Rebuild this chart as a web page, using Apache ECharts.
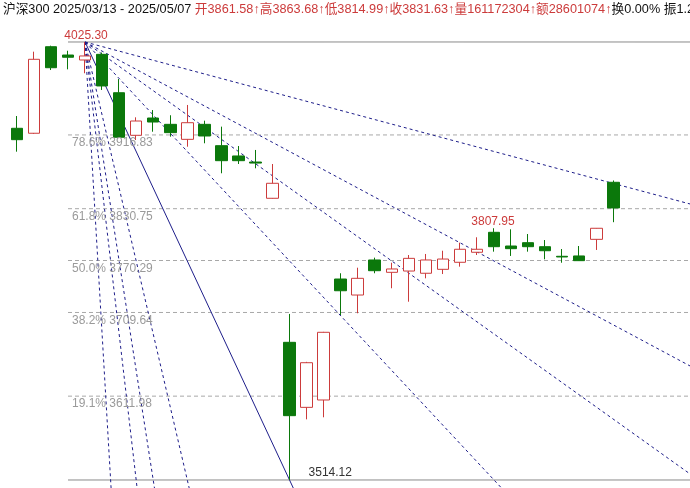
<!DOCTYPE html>
<html>
<head>
<meta charset="utf-8">
<script src="https://cdn.jsdelivr.net/npm/echarts@6/dist/echarts.min.js"></script>
<style>
html,body{margin:0;padding:0;background:#fff;}
#c{width:690px;height:488px;}
</style>
</head>
<body>
<div id="c"></div>
<script>
// ---- data ----
const dates = ['2025/03/13','2025/03/14','2025/03/17','2025/03/18','2025/03/19','2025/03/20','2025/03/21','2025/03/24','2025/03/25','2025/03/26','2025/03/27','2025/03/28','2025/03/31',
  '2025/04/01','2025/04/02','2025/04/03','2025/04/07','2025/04/08','2025/04/09','2025/04/10','2025/04/11','2025/04/14','2025/04/15','2025/04/16','2025/04/17','2025/04/18',
  '2025/04/21','2025/04/22','2025/04/23','2025/04/24','2025/04/25','2025/04/28','2025/04/29','2025/04/30','2025/05/06','2025/05/07'];
const padCats = ['', '', '', ''];
const opens  = [3924.6,3918.8,4019.8,4010.1,4004.3,4010.9,3966.1,3916.4,3936.6,3929.2,3911.7,3929.2,3904.3,3892.3,3885.2,3842.9,3674.8,3598.9,3607.5,3748.7,3730.0,3770.9,3756.5,3758.0,3755.4,3760.0,3768.2,3779.9,3803.2,3787.2,3791.1,3786.4,3775.2,3775.6,3795.0,3861.58];
const closes = [3911.3,4005.1,3995.3,4007.5,4009.0,3974.0,3914.1,3933.1,3931.9,3919.5,3931.1,3915.6,3886.8,3886.8,3884.0,3860.4,3589.2,3651.0,3686.5,3735.0,3749.5,3758.4,3760.4,3772.8,3770.9,3772.0,3783.4,3783.4,3786.4,3784.1,3786.4,3781.7,3774.4,3770.1,3807.9,3831.63];
const lows   = [3897.3,3918.0,3992.6,3993.4,3988.8,3969.3,3913.8,3910.9,3920.6,3914.8,3903.1,3907.1,3872.1,3882.9,3877.9,3842.5,3514.12,3584.9,3587.3,3706.7,3708.7,3755.4,3737.9,3722.2,3749.5,3754.5,3763.1,3776.7,3780.6,3775.6,3780.6,3771.7,3767.7,3769.8,3782.6,3814.99];
const highs  = [3938.9,4014.0,4021.0,4015.1,4025.30,4013.0,3982.1,3937.4,3945.9,3939.8,3951.8,3933.5,3926.5,3903.9,3899.3,3882.9,3707.9,3652.0,3687.0,3755.4,3761.9,3773.6,3767.7,3776.7,3777.9,3781.7,3791.1,3797.4,3807.95,3806.7,3801.2,3794.2,3783.7,3787.2,3808.2,3863.68];

const fibPcts   = ['78.6%','61.8%','50.0%','38.2%','19.1%'];
const fibValues = [3916.83,3830.75,3770.29,3709.64,3611.98];
const topValue = 4025.30, bottomValue = 3514.12;
const highIdx = 4, lowIdx = 16, localHighIdx = 28, fibStartIdx = 3;
const gannRatios = [8,4,3,2,1,1/2,1/3,1/4,1/8];

const headerBlack1 = '沪深300 2025/03/13 - 2025/05/07 ';
const headerRed = '开3861.58↑高3863.68↑低3814.99↑收3831.63↑量161172304↑额28601074↑';
const headerBlack2 = '换0.00% 振1.28%';

// ---- chart ----
const RED = '#cc3b3b', GREEN = '#0b780b', NAVY = '#1e1e8a';
const yMax = 4074.317, yMin = 3504.783, xMaxV = 39.5;
const candleData = opens.map((o,i)=>[o, closes[i], lows[i], highs[i]]);
const series = [{
  type:'candlestick', xAxisIndex:0, yAxisIndex:0, barWidth:12,
  data:candleData,
  itemStyle:{color:'#ffffff', color0:GREEN, borderColor:RED, borderColor0:GREEN, borderWidth:1},
  z:5
}];
// horizontal solid lines (top & bottom)
[topValue, bottomValue].forEach(v=>{
  series.push({type:'line', xAxisIndex:1, yAxisIndex:0, symbol:'none', silent:true,
    data:[[fibStartIdx, v],[xMaxV, v]], lineStyle:{color:'#8a8a8a', width:1, type:'solid'}, z:2});
});
fibValues.forEach(v=>{
  series.push({type:'line', xAxisIndex:1, yAxisIndex:0, symbol:'none', silent:true,
    data:[[fibStartIdx, v],[xMaxV, v]], lineStyle:{color:'#a8a8a8', width:1, type:[4,3]}, z:2});
});
// Gann fan
const unit = (topValue - bottomValue)/(lowIdx - highIdx);
gannRatios.forEach(k=>{
  const s = unit*k;
  let xe = Math.min(xMaxV, highIdx + (topValue - (yMin-20))/s);
  const ye = topValue - s*(xe-highIdx);
  series.push({type:'line', xAxisIndex:1, yAxisIndex:0, symbol:'none', silent:true, clip:true,
    data:[[highIdx, topValue],[xe, ye]],
    lineStyle:{color:NAVY, width:1, type: k===1 ? 'solid' : [3,3]}, z:3});
});

const chart = echarts.init(document.getElementById('c'), null, {renderer:'canvas'});
const FONT = '"Liberation Sans", Arial, "Noto Sans CJK SC", sans-serif';
chart.setOption({
  animation:false,
  backgroundColor:'#ffffff',
  grid:{left:8.37, top:0, width:690.3, height:488, containLabel:false},
  xAxis:[
    {type:'category', data:dates.concat(padCats), boundaryGap:true, show:false},
    {type:'value', min:-0.5, max:xMaxV, show:false}
  ],
  yAxis:[{type:'value', min:yMin, max:yMax, show:false, scale:true}],
  series:series
});

function px(x, y){ return chart.convertToPixel({xAxisIndex:1, yAxisIndex:0}, [x, y]); }
const g = [];
const pHigh = px(highIdx, topValue);
g.push({type:'text', x:pHigh[0]+1, y:pHigh[1], style:{text:topValue.toFixed(2), fill:RED, font:'12px '+FONT, textAlign:'center', textVerticalAlign:'bottom'}, z:10});
const pLH = px(localHighIdx, highs[localHighIdx]);
g.push({type:'text', x:pLH[0]-1, y:pLH[1]-1, style:{text:highs[localHighIdx].toFixed(2), fill:RED, font:'12px '+FONT, textAlign:'center', textVerticalAlign:'bottom'}, z:10});
const pLow = px(lowIdx, bottomValue);
g.push({type:'text', x:pLow[0]+19, y:pLow[1]-1, style:{text:bottomValue.toFixed(2), fill:'#333333', font:'12px '+FONT, textAlign:'left', textVerticalAlign:'bottom'}, z:10});
fibValues.forEach((v,i)=>{
  const p = px(fibStartIdx, v);
  g.push({type:'text', x:p[0]+4, y:p[1]+8, style:{text:fibPcts[i]+' '+v.toFixed(2), fill:'#9a9a9a', font:'12px '+FONT, textAlign:'left', textVerticalAlign:'middle'}, z:10});
});
g.push({type:'text', left:3, top:3, style:{
  text:'{k|'+headerBlack1+'}{r|'+headerRed+'}{k|'+headerBlack2+'}',
  rich:{k:{fill:'#111111', fontSize:12.7, fontFamily:FONT}, r:{fill:RED, fontSize:12.7, fontFamily:FONT}}
}, z:10});
chart.setOption({graphic:g});
</script>
</body>
</html>
